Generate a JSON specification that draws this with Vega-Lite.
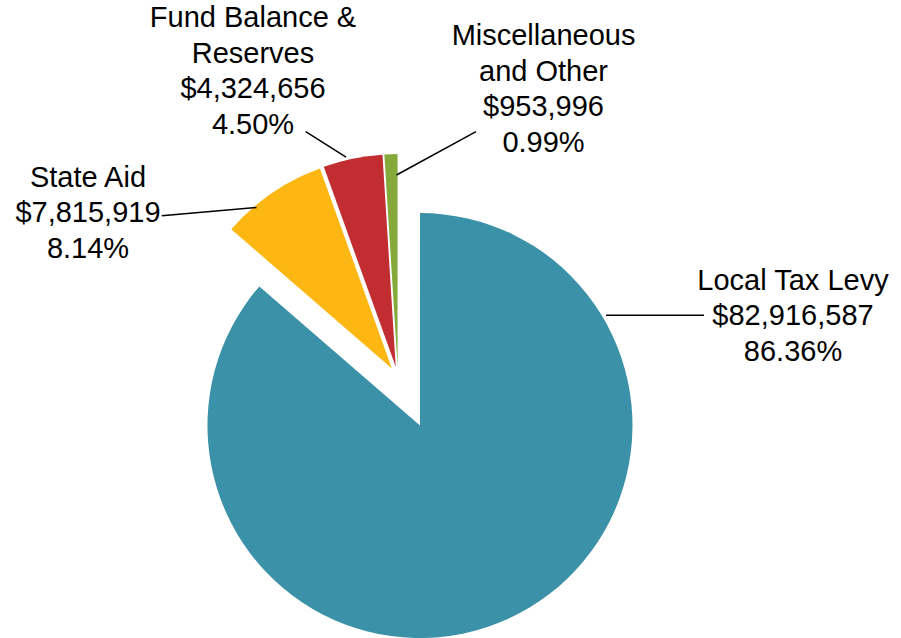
{
  "$schema": "https://vega.github.io/schema/vega-lite/v6.json",
  "width": 901,
  "height": 638,
  "padding": 0,
  "autosize": {"type": "none"},
  "background": "white",
  "config": {"view": {"stroke": null}},
  "data": {
    "values": [
      {"category": "Local Tax Levy", "amount": 82916587},
      {"category": "State Aid", "amount": 7815919},
      {"category": "Fund Balance & Reserves", "amount": 4324656},
      {"category": "Miscellaneous and Other", "amount": 953996}
    ]
  },
  "transform": [
    {"joinaggregate": [{"op": "sum", "field": "amount", "as": "total"}]},
    {"window": [{"op": "sum", "field": "amount", "as": "cum"}, {"op": "row_number", "as": "i"}], "frame": [null, 0]},
    {"calculate": "(datum.cum - datum.amount) / datum.total", "as": "f0"},
    {"calculate": "datum.cum / datum.total", "as": "f1"},
    {"calculate": "PI * (datum.f0 + datum.f1)", "as": "mid"},
    {"calculate": "datum.i == 1 ? 0.25 : 0.05", "as": "explode"},
    {"calculate": "datum.explode * sin(datum.mid)", "as": "cx"},
    {"calculate": "datum.explode * cos(datum.mid)", "as": "cy"},
    {"calculate": "replace(replace(datum.category, 'Balance & ', 'Balance &|'), 'ous and', 'ous|and') + '|' + format(datum.amount, '$,.0f') + '|' + format(datum.amount / datum.total, '.2%')", "as": "label"},
    {"calculate": "[1.8593, -1.4584, -0.6819, 0.6852][datum.i - 1]", "as": "lx"},
    {"calculate": "[0.4127, 0.8951, 1.648, 1.5633][datum.i - 1]", "as": "ly"},
    {"calculate": "[0.9793, -1.1115, -0.4339, 0.3675][datum.i - 1]", "as": "rx1"},
    {"calculate": "[0.2913, 0.76, 1.1553, 1.1553][datum.i - 1]", "as": "ry1"},
    {"calculate": "[1.4405, -0.6654, -0.2442, -0.0066][datum.i - 1]", "as": "rx2"},
    {"calculate": "[0.2913, 0.7986, 1.0362, 0.9515][datum.i - 1]", "as": "ry2"}
  ],
  "layer": [
    {
      "mark": {"type": "arc", "radius": 212.5},
      "encoding": {
        "x": {"field": "cx", "type": "quantitative", "scale": {"domain": [-1.8725, 2.3675], "nice": false, "zero": false}, "axis": null},
        "y": {"field": "cy", "type": "quantitative", "scale": {"domain": [-1.2273, 1.7751], "nice": false, "zero": false}, "axis": null},
        "theta": {"field": "f0", "type": "quantitative", "stack": null, "scale": {"domain": [0, 1], "range": [0, 6.283185307179586]}},
        "theta2": {"field": "f1"},
        "color": {
          "field": "category",
          "type": "nominal",
          "scale": {
            "domain": ["Local Tax Levy", "State Aid", "Fund Balance & Reserves", "Miscellaneous and Other"],
            "range": ["#3A91A8", "#FDB713", "#C12D31", "#84AA3A"]
          },
          "legend": null
        }
      }
    },
    {
      "mark": {"type": "rule", "color": "#000000", "strokeWidth": 1.5},
      "encoding": {
        "x": {"field": "rx1", "type": "quantitative"},
        "y": {"field": "ry1", "type": "quantitative"},
        "x2": {"field": "rx2"},
        "y2": {"field": "ry2"}
      }
    },
    {
      "mark": {
        "type": "text",
        "font": "Liberation Sans",
        "fontSize": 29,
        "lineHeight": 35.5,
        "lineBreak": "|",
        "align": "center",
        "baseline": "alphabetic",
        "color": "#000000"
      },
      "encoding": {
        "x": {"field": "lx", "type": "quantitative"},
        "y": {"field": "ly", "type": "quantitative"},
        "text": {"field": "label", "type": "nominal"}
      }
    }
  ]
}
